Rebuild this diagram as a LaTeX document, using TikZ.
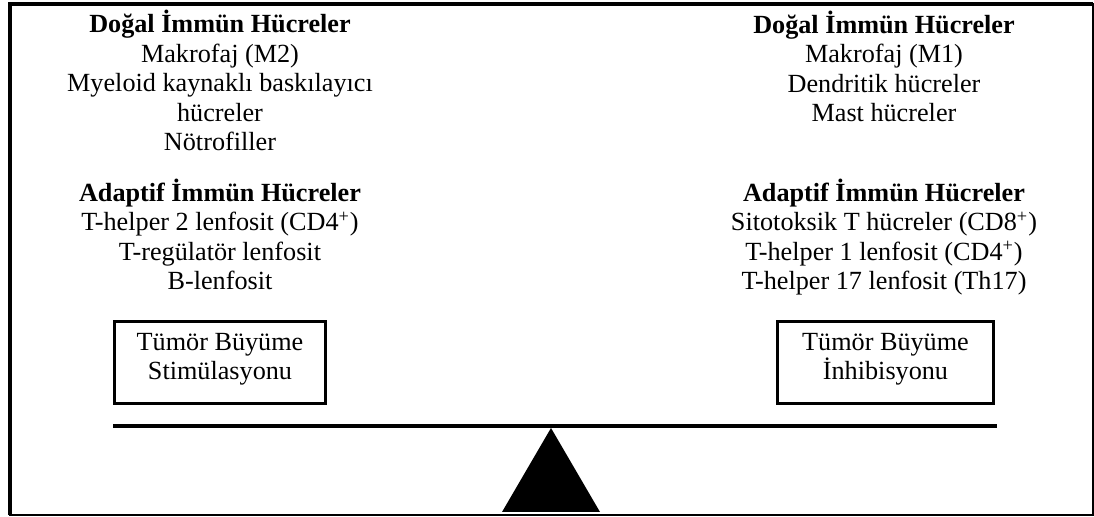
\documentclass[tikz,border=0pt]{standalone}
\usepackage{fontspec}
\setmainfont{Liberation Serif}
\usetikzlibrary{positioning}

\begin{document}
\begin{tikzpicture}[x=0.5pt,y=-0.5pt,
    liste/.style={align=center,inner sep=0pt,anchor=base,font=\fontsize{13.1}{14.8}\selectfont},
    kutu/.style={draw,line width=1.5pt,minimum height=41pt,inner sep=0pt,text height=17.5pt,text depth=0pt,align=center,font=\fontsize{13.1}{14.8}\selectfont}]
      \useasboundingbox (0,0) rectangle (1094,517);
      % dis cerceve
      \draw[line width=0.75pt] (10,3.8) rectangle (1093,515.2);
      \draw[line width=2pt] (10,515.2) -- (10,3.8) -- (1093,3.8);
      % sol taraf (base = son satir)
      \node[liste] (sol dogal) at (220,151) {\textbf{Doğal İmmün Hücreler}\\Makrofaj (M2)\\Myeloid kaynaklı baskılayıcı\\hücreler\\Nötrofiller};
      \node[liste] (sol adaptif) at (220,290) {\textbf{Adaptif İmmün Hücreler}\\T-helper 2 lenfosit (CD4\textsuperscript{+})\\T-regülatör lenfosit\\B-lenfosit};
      \node[kutu,minimum width=105.5pt] (stimulasyon) at (220,362.5) {Tümör Büyüme\\Stimülasyonu};
      % sag taraf
      \node[liste] (sag dogal) at (884,122) {\textbf{Doğal İmmün Hücreler}\\Makrofaj (M1)\\Dendritik hücreler\\Mast hücreler};
      \node[liste] (sag adaptif) at (884,290) {\textbf{Adaptif İmmün Hücreler}\\Sitotoksik T hücreler (CD8\textsuperscript{+})\\T-helper 1 lenfosit (CD4\textsuperscript{+})\\T-helper 17 lenfosit (Th17)};
      \node[kutu,minimum width=108pt] (inhibisyon) at (885.5,362.5) {Tümör Büyüme\\İnhibisyonu};
      % terazi
      \draw[line width=2pt] (113,426.5) -- (996.5,426.5);
      \fill (551,428) -- (600,512) -- (502,512) -- cycle;
    \end{tikzpicture}
\end{document}
